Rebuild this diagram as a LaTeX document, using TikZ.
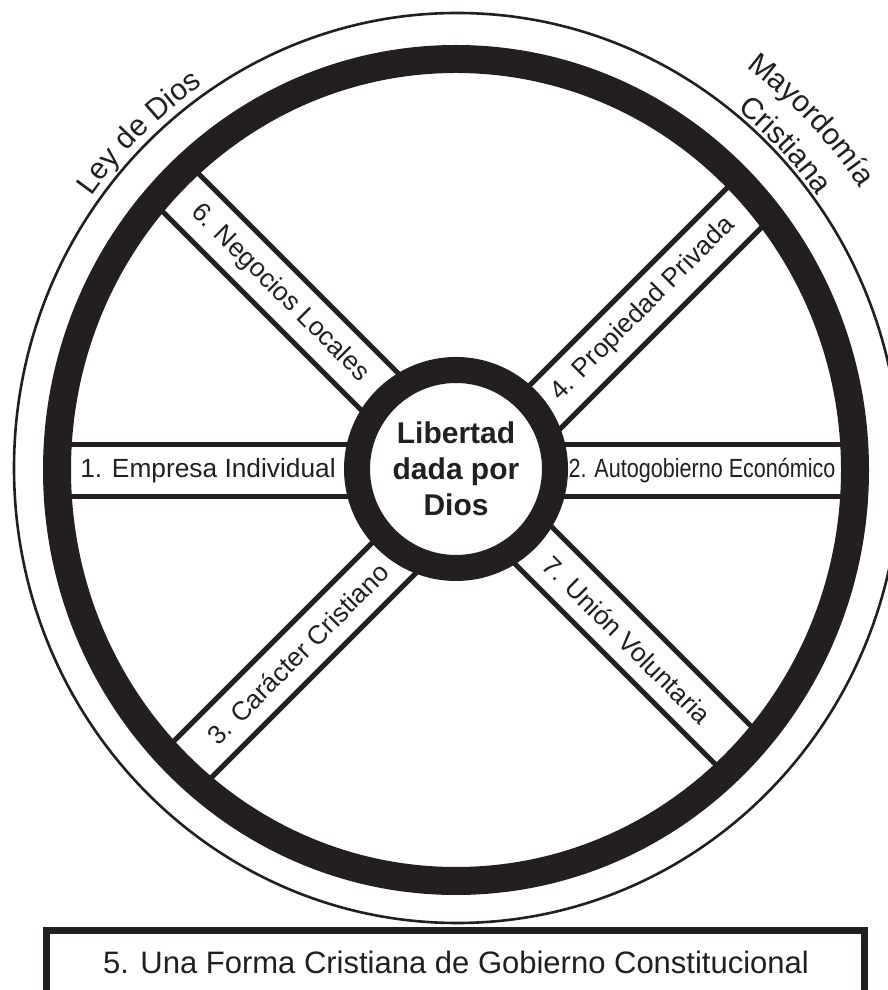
\documentclass[tikz,border=0pt]{standalone}
\usepackage{fontspec}
\usepackage{graphicx}
\setmainfont{Liberation Sans}
\usetikzlibrary{decorations.text}
\definecolor{ink}{RGB}{35,31,32}
\newcommand{\lblfont}{\fontsize{26.3}{30}\selectfont}
\newcommand{\arcfont}{\fontsize{30}{33}\selectfont}
\newcommand{\hubfont}{\fontsize{30}{36}\selectfont\bfseries}
\newcommand{\boxfont}{\fontsize{31}{34}\selectfont}
\begin{document}
\begin{tikzpicture}[x=1pt,y=1pt,
  spokeline/.style={line width=5pt, draw=ink},
  spokelabel/.style={font=\lblfont, text=ink, inner sep=0pt},
  arclabel/.style={decorate, decoration={text along path, text align=center, text color=ink}}]
\useasboundingbox (0,0) rectangle (888,990);
\clip (0,0) rectangle (888,990);
\fill[white] (0,0) rectangle (888,990);

% outer thin circle
\draw[ink, line width=2.6pt] (457,522) ellipse [x radius=443, y radius=455];

% spokes
\begin{scope}
  \clip (456,520) ellipse [x radius=399, y radius=411];
  \draw[spokeline] (0,545.5) -- (888,545.5);
  \draw[spokeline] (0,493.5) -- (888,493.5);
  \draw[spokeline] (0,1014.8) -- (888,126.8);
  \draw[spokeline] (0,941.2) -- (888,53.2);
  \draw[spokeline] (0,75) -- (888,963);
  \draw[spokeline] (0,1) -- (888,889);
\end{scope}

% thick rim
\draw[ink, line width=28pt] (456,520) ellipse [x radius=399, y radius=411];

% hub
\node[circle, draw=ink, line width=26pt, fill=white, minimum size=198pt, inner sep=0pt,
      font=\hubfont, text=ink, align=center] (hub) at (456,521) {Libertad\\dada por\\Dios};

% spoke labels
\node[spokelabel] (l1) at (208,519.5) {1. Empresa Individual};
\node[spokelabel] (l2) at (702,519.5) {\scalebox{0.82}[1]{2. Autogobierno Económico}};
\node[spokelabel, rotate=-45] (l6) at (280,697) {6. Negocios Locales};
\node[spokelabel, rotate=45] (l4) at (643,681) {4. Propiedad Privada};
\node[spokelabel, rotate=45] (l3) at (298,336) {3. Carácter Cristiano};
\node[spokelabel, rotate=-45] (l7) at (627,350) {7. Unión Voluntaria};

% arc labels
\path[arclabel, decoration={text={|\arcfont|Ley de Dios}}]
  (457,522) ++(162:452 and 463) arc[start angle=162, end angle=106, x radius=452, y radius=463];
\path[arclabel, decoration={text={|\arcfont|Mayordomía}}]
  (457,522) ++(72:487 and 498) arc[start angle=72, end angle=16, x radius=487, y radius=498];
\path[arclabel, decoration={text={|\arcfont|Cristiana}}]
  (457,522) ++(72:448 and 459) arc[start angle=72, end angle=16, x radius=448, y radius=459];

% bottom box
\draw[ink, line width=7pt] (46.5,-20) rectangle (864.5,59.5);
\node[font=\boxfont, text=ink, inner sep=0pt] (title) at (456,28) {5. Una Forma Cristiana de Gobierno Constitucional};
\end{tikzpicture}
\end{document}
